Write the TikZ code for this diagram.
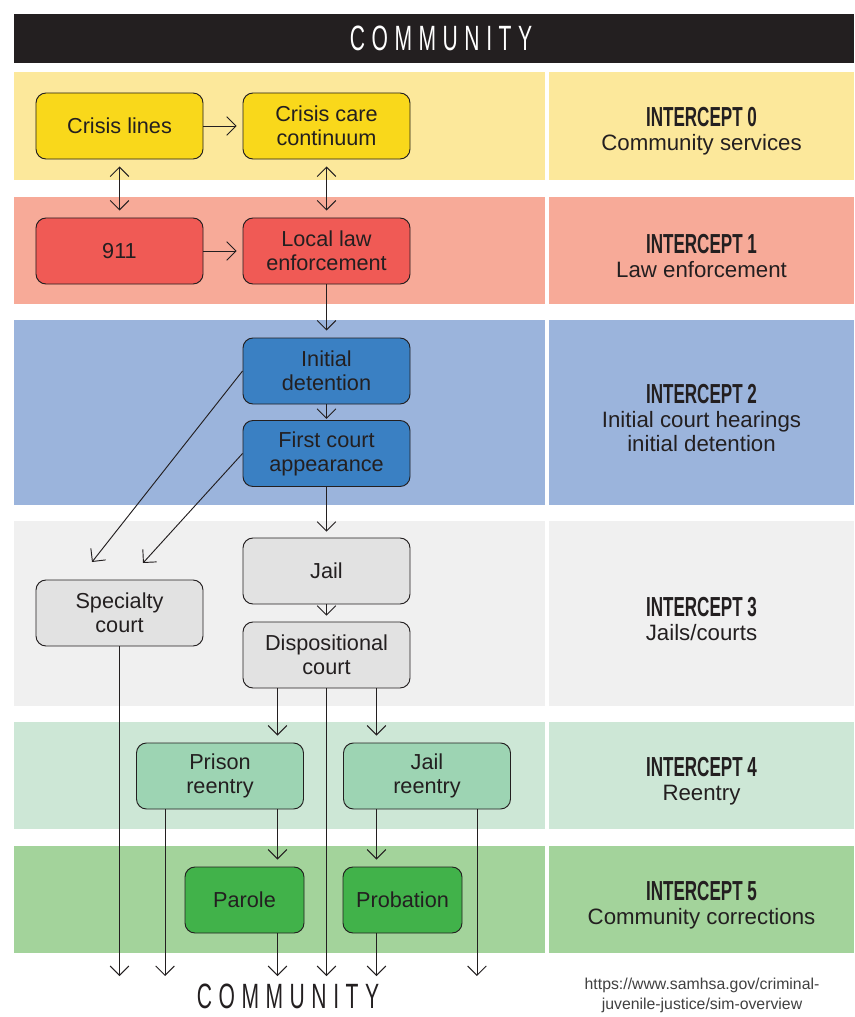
\documentclass[tikz,border=0pt]{standalone}
\usepackage{fontspec}
\setmainfont{Liberation Sans}
\usetikzlibrary{arrows.meta,positioning,calc}
\definecolor{inkc}{HTML}{231F20}
\definecolor{band0c}{HTML}{FCE89B}
\definecolor{box0c}{HTML}{F9D81B}
\definecolor{band1c}{HTML}{F7AA98}
\definecolor{box1c}{HTML}{F05A55}
\definecolor{band2c}{HTML}{9BB4DC}
\definecolor{box2c}{HTML}{3A80C3}
\definecolor{band3c}{HTML}{F0F0F0}
\definecolor{box3c}{HTML}{E2E2E2}
\definecolor{band4c}{HTML}{CDE7D6}
\definecolor{box4c}{HTML}{9DD4B3}
\definecolor{band5c}{HTML}{A3D39B}
\definecolor{box5c}{HTML}{41B24A}
\newcommand{\hdr}[1]{\scalebox{0.62}[1]{\fontsize{23.5}{21}\selectfont\bfseries #1}}
\newcommand{\commword}{\scalebox{0.6}[1]{\fontsize{30}{30}\selectfont\addfontfeature{LetterSpace=31}COMMUNITY}}

\begin{document}
\begin{tikzpicture}[x=0.03cm, y=-0.03cm,
  box/.style={draw=inkc, line width=0.8pt, rounded corners=0.3cm, align=center,
    minimum width=5.01cm, minimum height=1.98cm, inner sep=0pt, text=inkc,
    font=\fontsize{18.5}{20.5}\selectfont},
  smallbox/.style={box, minimum width=3.57cm},
  icpt/.style={align=center, text=inkc, font=\fontsize{19}{20.5}\selectfont},
  arr/.style={draw=inkc, line width=0.8pt, -{Straight Barb[length=8pt,width=16pt]}},
  arrtwo/.style={draw=inkc, line width=0.8pt,
    {Straight Barb[length=8pt,width=16pt]}-{Straight Barb[length=8pt,width=16pt]}}]
  \useasboundingbox (0,0) rectangle (854,1017);
  % banner
  \fill[inkc] (14,14) rectangle (854,63);
  \node[text=white] (topword) at (441,38) {\commword};
  % bands
  \fill[band0c] (14,72) rectangle (545,180);
  \fill[band0c] (549,72) rectangle (854,180);
  \fill[band1c] (14,197) rectangle (545,304);
  \fill[band1c] (549,197) rectangle (854,304);
  \fill[band2c] (14,320) rectangle (545,505);
  \fill[band2c] (549,320) rectangle (854,505);
  \fill[band3c] (14,521) rectangle (545,706);
  \fill[band3c] (549,521) rectangle (854,706);
  \fill[band4c] (14,722) rectangle (545,829);
  \fill[band4c] (549,722) rectangle (854,829);
  \fill[band5c] (14,846) rectangle (545,953);
  \fill[band5c] (549,846) rectangle (854,953);
  % intercept labels
  \node[icpt] (i0) at (701.5,131) {\hdr{INTERCEPT 0}\\Community services};
  \node[icpt] (i1) at (701.5,256) {\hdr{INTERCEPT 1}\\Law enforcement};
  \node[icpt] (i2) at (701.5,418) {\hdr{INTERCEPT 2}\\Initial court hearings\\initial detention};
  \node[icpt] (i3) at (701.5,619) {\hdr{INTERCEPT 3}\\Jails/courts};
  \node[icpt] (i4) at (701.5,781) {\hdr{INTERCEPT 4}\\Reentry};
  \node[icpt] (i5) at (701.5,905) {\hdr{INTERCEPT 5}\\Community corrections};
  % boxes
  \node[box, fill=box0c] (cl) at (119.5,126) {Crisis lines};
  \node[box, fill=box0c] (ccc) at (326.5,126) {Crisis care\\continuum};
  \node[box, fill=box1c] (n911) at (119.5,251) {911};
  \node[box, fill=box1c] (lle) at (326.5,251) {Local law\\enforcement};
  \node[box, fill=box2c] (idet) at (326.5,371) {Initial\\detention};
  \node[box, fill=box2c] (fca) at (326.5,453.5) {First court\\appearance};
  \node[box, fill=box3c] (jail) at (326.5,571) {Jail};
  \node[box, fill=box3c] (disp) at (326.5,655) {Dispositional\\court};
  \node[box, fill=box3c] (spec) at (119.5,613) {Specialty\\court};
  \node[box, fill=box4c] (prison) at (220,776) {Prison\\reentry};
  \node[box, fill=box4c] (jailre) at (427,776) {Jail\\reentry};
  \node[smallbox, fill=box5c] (parole) at (244.5,900) {Parole};
  \node[smallbox, fill=box5c] (probat) at (402.5,900) {Probation};
  % free ends
  \coordinate (comm) at (0,976);
  \coordinate (sc1) at (92,562);
  \coordinate (sc2) at (143,563);
  \coordinate (d1) at ([xshift=-1.47cm]disp.south);
  \coordinate (d2) at ([xshift=1.5cm]disp.south);
  \coordinate (p1) at ([xshift=0.87cm]prison.south west);
  \coordinate (j2) at ([xshift=-1.02cm]jailre.south east);
  % connectors
  \draw[arr, shorten >=5pt] (cl) -- (ccc);
  \draw[arrtwo, shorten <=6pt, shorten >=6pt] (cl) -- (n911);
  \draw[arrtwo, shorten <=6pt, shorten >=6pt] (ccc) -- (lle);
  \draw[arr, shorten >=5pt] (n911) -- (lle);
  \draw[arr, shorten >=6pt] (lle) -- (idet);
  \draw[arr, shorten >=1pt] (idet) -- (fca);
  \draw[arr] (idet.west) -- (sc1);
  \draw[arr] (fca.west) -- (sc2);
  \draw[arr, shorten >=5pt] (fca) -- (jail);
  \draw[arr, shorten >=5pt] (jail) -- (disp);
  \draw[arr, shorten >=6pt] (d1) -- (prison.north -| d1);
  \draw[arr, shorten >=6pt] (d2) -- (jailre.north -| d2);
  \draw[arr] (disp.south) -- (disp.south |- comm);
  \draw[arr] (spec.south) -- (spec.south |- comm);
  \draw[arr] (p1) -- (p1 |- comm);
  \draw[arr, shorten >=6pt] (prison.south -| d1) -- (parole.north -| d1);
  \draw[arr, shorten >=6pt] (jailre.south -| d2) -- (probat.north -| d2);
  \draw[arr] (j2) -- (j2 |- comm);
  \draw[arr] (parole.south -| d1) -- (comm -| d1);
  \draw[arr] (probat.south -| d2) -- (comm -| d2);
  % bottom
  \node[text=inkc, inner sep=0pt, anchor=base] (botword) at (288,1008) {\commword};
  \node[align=center, text=black!75, font=\fontsize{13.5}{17}\selectfont] (src) at (702,995)
    {https://www.samhsa.gov/criminal-\\juvenile-justice/sim-overview};
\end{tikzpicture}
\end{document}
